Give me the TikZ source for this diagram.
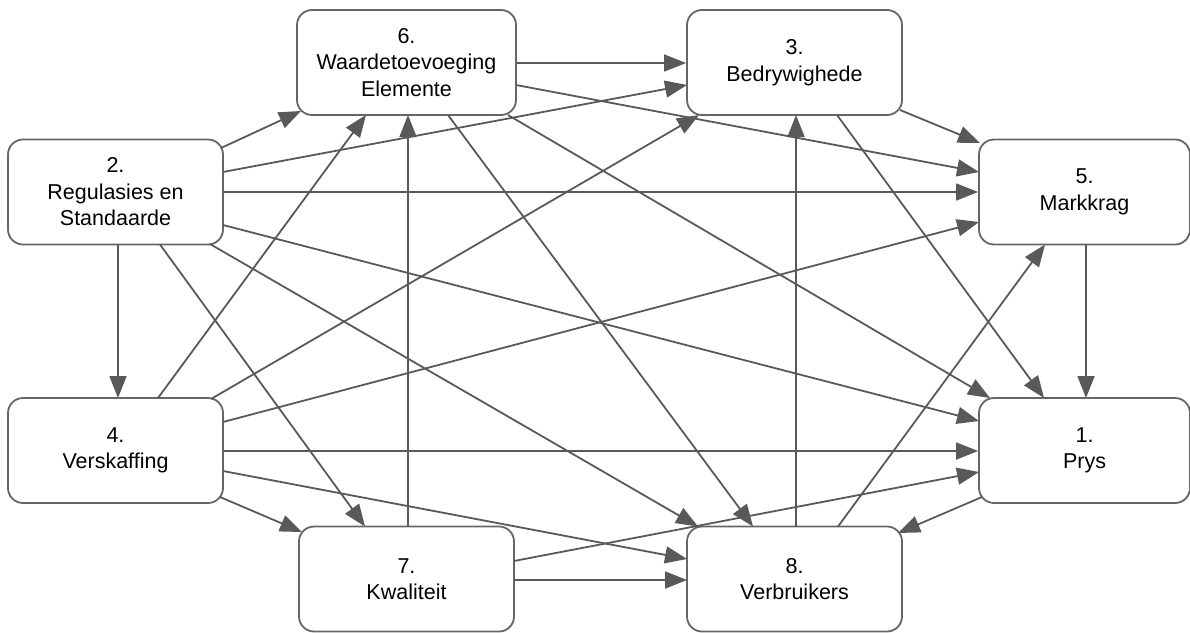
\documentclass[tikz,border=0pt]{standalone}
\usepackage{fontspec}
\setmainfont{Liberation Sans}
\usetikzlibrary{arrows.meta}
\definecolor{edgec}{HTML}{595959}
\definecolor{boxc}{HTML}{666666}
\tikzset{
  box/.style={draw=boxc, line width=1.8pt, rounded corners=15pt, fill=white,
    minimum height=105pt, align=center, inner sep=0pt,
    font=\fontsize{21.5}{26.5}\selectfont},
  arr/.style={draw=edgec, line width=1.8pt, -{Triangle[length=22pt,width=17pt]}}
}
\begin{document}
\begin{tikzpicture}[x=1pt,y=-1pt]
\useasboundingbox (0,0) rectangle (1190,632);
\node[box, minimum width=219pt] (n6) at (406.5,62.5) {6.\\Waardetoevoeging\\Elemente};
\node[box, minimum width=215pt] (n3) at (794.5,62.5) {3.\\Bedrywighede};
\node[box, minimum width=215pt] (n2) at (115.5,192) {2.\\Regulasies en\\Standaarde};
\node[box, minimum width=211pt] (n5) at (1084.5,192) {5.\\Markkrag};
\node[box, minimum width=215pt] (n4) at (115.5,450.5) {4.\\Verskaffing};
\node[box, minimum width=211pt] (n1) at (1084.5,450.5) {1.\\Prys};
\node[box, minimum width=215pt] (n7) at (406.5,579) {7.\\Kwaliteit};
\node[box, minimum width=215pt] (n8) at (794.5,579) {8.\\Verbruikers};

% from 6
\draw[arr] ([shift={(0,0.5)}]n6.east) -- ([shift={(0,0.5)}]n3.west);
\draw[arr] ([shift={(109.5,22.5)}]n6.center) -- ([shift={(-105.5,-20)}]n5.center);
\draw[arr] ([shift={(101.5,52.5)}]n6.center) -- ([shift={(-94.5,-52.5)}]n1.center);
\draw[arr] ([shift={(41.5,52.5)}]n6.center) -- ([shift={(-41.5,-52.5)}]n8.center);
% from 2
\draw[arr] ([shift={(105.5,-44)}]n2.center) -- ([shift={(-105.5,48.5)}]n6.center);
\draw[arr] ([shift={(107.5,-20)}]n2.center) -- ([shift={(-107.5,22.5)}]n3.center);
\draw[arr] (n2.east) -- (n5.west);
\draw[arr] ([shift={(107.5,33)}]n2.center) -- ([shift={(-105.5,-29.5)}]n1.center);
\draw[arr] ([shift={(2.5,52.5)}]n2.center) -- ([shift={(2.5,-52.5)}]n4.center);
\draw[arr] ([shift={(44.5,52.5)}]n2.center) -- ([shift={(-41.5,-52.5)}]n7.center);
\draw[arr] ([shift={(94.5,52)}]n2.center) -- ([shift={(-96.5,-52.5)}]n8.center);
% from 4
\draw[arr] ([shift={(42.5,-52.5)}]n4.center) -- ([shift={(-40.5,52.5)}]n6.center);
\draw[arr] ([shift={(95.5,-51.5)}]n4.center) -- ([shift={(-95.5,52.5)}]n3.center);
\draw[arr] ([shift={(107.5,-28.5)}]n4.center) -- ([shift={(-105.5,30)}]n5.center);
\draw[arr] ([shift={(0,0.5)}]n4.east) -- ([shift={(0,0.5)}]n1.west);
\draw[arr] ([shift={(107.5,20.5)}]n4.center) -- ([shift={(-107.5,-20)}]n8.center);
\draw[arr] ([shift={(104.5,46.5)}]n4.center) -- ([shift={(-104.5,-47)}]n7.center);
% from 7
\draw[arr] ([shift={(1.5,-52.5)}]n7.center) -- ([shift={(1.5,52.5)}]n6.center);
\draw[arr] ([shift={(107.5,1)}]n7.center) -- ([shift={(-107.5,1)}]n8.center);
\draw[arr] ([shift={(107.5,-18)}]n7.center) -- ([shift={(-105.5,21.5)}]n1.center);
% from 8
\draw[arr] ([shift={(1.5,-52.5)}]n8.center) -- ([shift={(1.5,52.5)}]n3.center);
\draw[arr] ([shift={(43.5,-52.5)}]n8.center) -- ([shift={(-39.5,52.5)}]n5.center);
% from 3
\draw[arr] ([shift={(105.5,47.5)}]n3.center) -- ([shift={(-104.5,-49)}]n5.center);
\draw[arr] ([shift={(42.5,52.5)}]n3.center) -- ([shift={(-40.5,-52.5)}]n1.center);
% from 5
\draw[arr] ([shift={(1.5,52.5)}]n5.center) -- ([shift={(1.5,-52.5)}]n1.center);
% from 1
\draw[arr] ([shift={(-102.5,46.5)}]n1.center) -- ([shift={(103.5,-46)}]n8.center);
\end{tikzpicture}
\end{document}
